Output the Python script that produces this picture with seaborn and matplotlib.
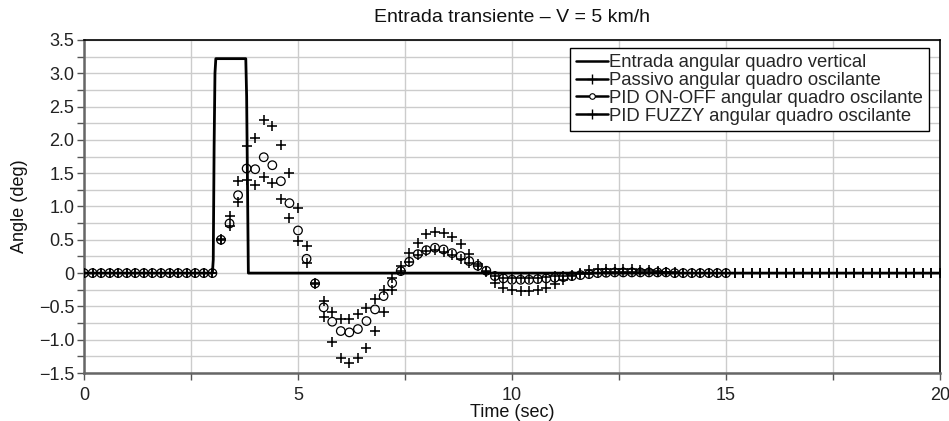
import numpy as np
import pandas as pd
import seaborn as sns
import matplotlib
matplotlib.use("Agg")
import matplotlib.pyplot as plt
from matplotlib.lines import Line2D
from matplotlib.legend_handler import HandlerLine2D
from matplotlib.ticker import MultipleLocator, FuncFormatter

# ---- data -------------------------------------------------------------
# sample times of the oscillating-frame responses (0.2 s step)
time_full = [round(0.2 * i, 1) for i in range(101)]   # 0 .. 20 s
time_onoff = [round(0.2 * i, 1) for i in range(76)]   # 0 .. 15 s

# vertical-frame angular input (step pulse)
entrada_t = [0.0, 3.0, 3.02, 3.04, 3.06, 3.08, 3.78, 3.80, 3.84, 20.0]
entrada_v = [0.0, 0.0, 0.2, 1.9, 3.0, 3.22, 3.22, 2.65, 0.0, 0.0]

passivo = [
    0.0, 0.0, 0.0, 0.0, 0.0, 0.0, 0.0, 0.0, 0.0, 0.0, 0.0, 0.0, 0.0, 0.0, 0.0, 0.0,
    0.51, 0.855, 1.39, 1.91, 2.03, 2.30, 2.21, 1.93, 1.51, 0.97,
    0.41, -0.15, -0.655, -1.03, -1.27, -1.35, -1.28, -1.12, -0.87, -0.58,
    -0.26, 0.10, 0.30, 0.455, 0.59, 0.61, 0.60, 0.54, 0.43, 0.29,
    0.13, 0.01, -0.15, -0.225, -0.26, -0.275, -0.275, -0.26, -0.23, -0.17,
    -0.105, -0.05, 0.0, 0.04, 0.055, 0.06, 0.06, 0.06, 0.055, 0.05,
    0.04, 0.03, 0.02, 0.01, 0.005,
    0.0, 0.0, 0.0, 0.0, 0.0, 0.0, 0.0, 0.0, 0.0, 0.0,
    0.0, 0.0, 0.0, 0.0, 0.0, 0.0, 0.0, 0.0, 0.0, 0.0,
    0.0, 0.0, 0.0, 0.0, 0.0, 0.0, 0.0, 0.0, 0.0, 0.0,
]

pid_onoff = [
    0.0, 0.0, 0.0, 0.0, 0.0, 0.0, 0.0, 0.0, 0.0, 0.0, 0.0, 0.0, 0.0, 0.0, 0.0, 0.0,
    0.50, 0.745, 1.17, 1.57, 1.56, 1.74, 1.62, 1.38, 1.05, 0.64,
    0.215, -0.155, -0.515, -0.73, -0.87, -0.89, -0.84, -0.72, -0.545, -0.345,
    -0.15, 0.03, 0.17, 0.285, 0.345, 0.38, 0.355, 0.30, 0.255, 0.18,
    0.11, 0.035, -0.045, -0.08, -0.10, -0.10, -0.10, -0.09, -0.08, -0.07,
    -0.06, -0.045, -0.03, -0.015, 0.0, 0.005, 0.01, 0.01, 0.01, 0.01,
    0.01, 0.01, 0.01, 0.0, 0.0, 0.0, 0.0, 0.0, 0.0, 0.0,
]

pid_fuzzy = [
    0.0, 0.0, 0.0, 0.0, 0.0, 0.0, 0.0, 0.0, 0.0, 0.0, 0.0, 0.0, 0.0, 0.0, 0.0, 0.0,
    0.49, 0.70, 1.07, 1.40, 1.32, 1.45, 1.35, 1.12, 0.82, 0.48,
    0.145, -0.16, -0.415, -0.59, -0.69, -0.69, -0.62, -0.53, -0.395, -0.255,
    -0.08, 0.03, 0.16, 0.27, 0.33, 0.35, 0.32, 0.27, 0.21, 0.15,
    0.10, 0.03, -0.05, -0.07, -0.08, -0.08, -0.08, -0.07, -0.06, -0.05,
    -0.04, -0.03, -0.02, -0.01, 0.0, 0.015, 0.015, 0.015, 0.015, 0.015,
    0.015, 0.015, 0.01, 0.005, 0.0,
    0.0, 0.0, 0.0, 0.0, 0.0, 0.0, 0.0, 0.0, 0.0, 0.0,
    0.0, 0.0, 0.0, 0.0, 0.0, 0.0, 0.0, 0.0, 0.0, 0.0,
    0.0, 0.0, 0.0, 0.0, 0.0, 0.0, 0.0, 0.0, 0.0, 0.0,
]

labels = [
    "Entrada angular quadro vertical",
    "Passivo angular quadro oscilante",
    "PID ON-OFF angular quadro oscilante",
    "PID FUZZY angular quadro oscilante",
]

df_in = pd.DataFrame({"t": entrada_t, "v": entrada_v})
df_p = pd.DataFrame({"t": time_full, "v": passivo})
df_o = pd.DataFrame({"t": time_onoff, "v": pid_onoff})
df_f = pd.DataFrame({"t": time_full, "v": pid_fuzzy})

# ---- style ------------------------------------------------------------
sns.set_theme(style="white")
plt.rcParams["font.family"] = ["Liberation Sans", "DejaVu Sans"]
plt.rcParams["axes.unicode_minus"] = True
FS = 13

fig = plt.figure(figsize=(9.49, 4.21), dpi=100)
ax = fig.add_axes([84 / 949, 1 - 373 / 421, 856 / 949, 333 / 421])

# ---- marks ------------------------------------------------------------
sns.lineplot(data=df_in, x="t", y="v", ax=ax, color="black", linewidth=2.0,
             estimator=None, sort=False, legend=False, zorder=3)
sns.scatterplot(data=df_p, x="t", y="v", ax=ax, marker="+", s=55,
                color="black", linewidth=1.15, legend=False, zorder=4)
sns.scatterplot(data=df_o, x="t", y="v", ax=ax, marker="o", s=38,
                facecolor="none", edgecolor="black", linewidth=0.9,
                legend=False, zorder=4)
sns.scatterplot(data=df_f, x="t", y="v", ax=ax, marker="+", s=55,
                color="black", linewidth=1.15, legend=False, zorder=4)

# ---- axes -------------------------------------------------------------
ax.set_xlim(0, 20)
ax.set_ylim(-1.5, 3.5)
ax.xaxis.set_major_locator(MultipleLocator(5))
ax.xaxis.set_minor_locator(MultipleLocator(2.5))
ax.yaxis.set_major_locator(MultipleLocator(0.5))
ax.yaxis.set_minor_locator(MultipleLocator(0.25))


def fmt_y(v, _pos):
    if abs(v) < 1e-9:
        return "0"
    return f"{v:.1f}".replace("-", "\u2212")


ax.yaxis.set_major_formatter(FuncFormatter(fmt_y))
ax.xaxis.set_major_formatter(FuncFormatter(lambda v, _p: f"{v:.0f}"))

ax.grid(True, which="both", axis="both", color="#cccccc", linewidth=1.0,
        zorder=0)
ax.set_axisbelow(True)

ax.tick_params(axis="both", which="both", direction="out", length=5,
               width=1.0, color="#555555", left=True, bottom=True,
               labelsize=FS, labelcolor="#222222")
ax.tick_params(axis="y", which="both", pad=2)
ax.tick_params(axis="x", which="both", pad=5)

for side in ("left", "bottom"):
    ax.spines[side].set_color("#666666")
    ax.spines[side].set_linewidth(1.8)
for side in ("top", "right"):
    ax.spines[side].set_color("black")
    ax.spines[side].set_linewidth(1.2)

ax.set_xlabel("Time (sec)", fontsize=FS, labelpad=0, color="#111111")
ax.set_ylabel("Angle (deg)", fontsize=FS, labelpad=8, color="#111111")
ax.set_title("Entrada transiente \u2013 V = 5 km/h", fontsize=14, pad=13,
             color="#111111")


# legend: short line with the marker sitting on its left end
class LeftMarkerHandler(HandlerLine2D):
    def get_xdata(self, legend, xdescent, ydescent, width, height, fontsize):
        xdata = np.array([-xdescent, -xdescent + width])
        return xdata, np.array([-xdescent])


handles = [
    Line2D([], [], color="black", linewidth=1.8),
    Line2D([], [], color="black", linewidth=1.8, marker="+",
           markersize=7, markeredgewidth=1.0),
    Line2D([], [], color="black", linewidth=1.8, marker="o",
           markersize=4, markerfacecolor="white", markeredgewidth=0.8),
    Line2D([], [], color="black", linewidth=1.8, marker="+",
           markersize=7, markeredgewidth=1.0),
]
leg = ax.legend(handles, labels, loc="upper right",
                bbox_to_anchor=((929 - 84) / 856, 1 - (48 - 40) / 333),
                borderaxespad=0, fontsize=13.3, frameon=True, fancybox=False,
                handlelength=1.75, handletextpad=0.05, labelspacing=0.05,
                borderpad=0.33, numpoints=1,
                handler_map={Line2D: LeftMarkerHandler(numpoints=1)})
leg.get_frame().set_edgecolor("black")
leg.get_frame().set_linewidth(1.0)
leg.get_frame().set_facecolor("white")
leg.get_frame().set_alpha(1.0)

fig.savefig("out.png", dpi=100)
